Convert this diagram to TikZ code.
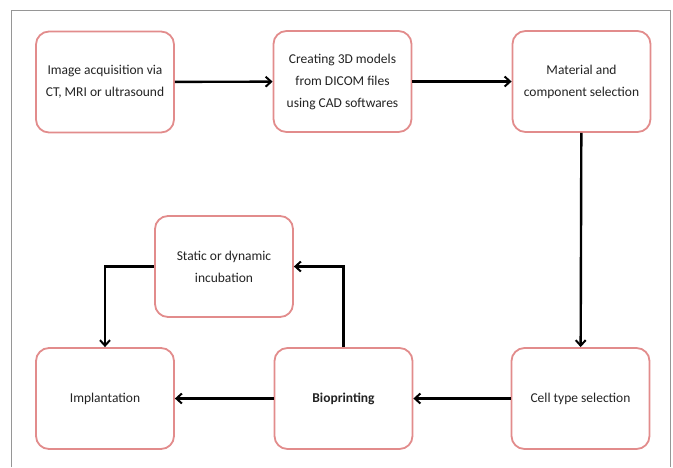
\documentclass[tikz,border=0pt]{standalone}
\usepackage{fontspec}
\setmainfont{Carlito}
\usepackage{xcolor}
\usetikzlibrary{arrows.meta}
\usetikzlibrary{positioning}
\definecolor{boxred}{RGB}{226,140,140}
\definecolor{framegray}{RGB}{150,150,150}
\definecolor{textgray}{RGB}{35,35,35}

\begin{document}
\begin{tikzpicture}[x=1pt, y=-1pt,
  stage/.style={draw=boxred, line width=1.8pt, rounded corners=13pt, fill=white,
    minimum width=138pt, minimum height=101pt, align=center, text=textgray,
    font=\fontsize{13.5}{22}\selectfont},
  flow/.style={-{Straight Barb[length=5.5pt, width=10pt, line width=2pt]}, line width=2.4pt, black}]
  \useasboundingbox (0, 0) rectangle (673, 467);
  \draw[framegray, line width=1pt] (11, 467) -- (11, 10) -- (670, 10) -- (670, 467);

  \node[stage] (scan) at (105, 82) {Image acquisition via\\CT, MRI or ultrasound};
  \node[stage] (model) at (342.5, 81.5) {Creating 3D models\\from DICOM files\\using CAD softwares};
  \node[stage] (material) at (581.5, 81.5) {Material and\\component selection};
  \node[stage] (cells) at (580.5, 398.5) {Cell type selection};
  \node[stage, font=\fontsize{13.5}{22}\selectfont\bfseries] (print) at (343.5, 398.5) {Bioprinting};
  \node[stage] (implant) at (105, 398.5) {Implantation};
  \node[stage] (incubate) at (224, 266.5) {Static or dynamic\\incubation};

  \draw[flow] (scan) -- (model);
  \draw[flow] (model) -- (material);
  \draw[flow] (material) -- (cells);
  \draw[flow] (cells) -- (print);
  \draw[flow] (print) -- (implant);
  \draw[flow] (print.north) |- (incubate.east);
  \draw[flow] (incubate.west) -| (implant.north);
\end{tikzpicture}
\end{document}
